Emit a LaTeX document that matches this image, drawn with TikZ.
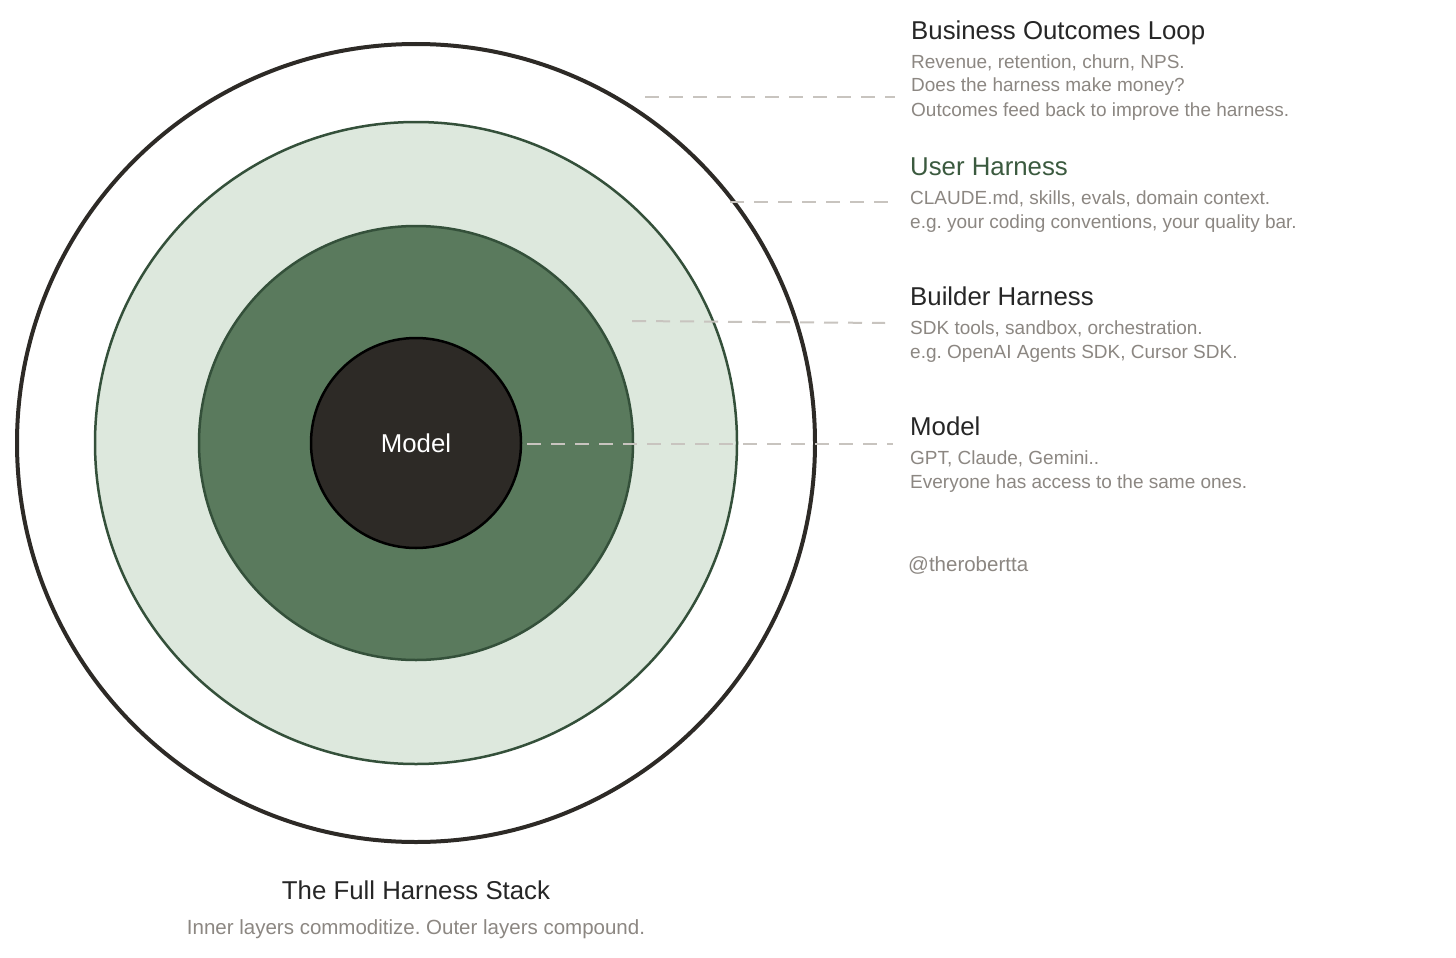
\documentclass[tikz,border=0pt]{standalone}
\usepackage{fontspec}
\setmainfont{Liberation Sans}
\begin{document}
\frenchspacing
\begin{tikzpicture}[x=1pt,y=-1pt,
  title/.style={anchor=base west,font=\fontsize{25.8}{28}\selectfont,text=black!85,inner sep=0},
  body/.style={anchor=base west,font=\fontsize{19}{24}\selectfont,text=grey,inner sep=0,align=left},
  lead/.style={draw=dashc,line width=2pt,dash pattern=on 14pt off 10pt}]
\definecolor{grey}{HTML}{8C8782}
\definecolor{dashc}{HTML}{C8C4BF}
\definecolor{lgreen}{HTML}{DDE8DD}
\definecolor{dgreen}{HTML}{5A7A5D}
\definecolor{edgeg}{HTML}{34503A}
\definecolor{core}{HTML}{2D2A26}
\definecolor{ugreen}{HTML}{3B5A3F}
\useasboundingbox (0,0) rectangle (1456,958);
\fill[white] (0,0) rectangle (1456,958);
\node[circle,draw=core,line width=4pt,minimum size=798pt,inner sep=0] (outer) at (416,443) {};
\node[circle,draw=edgeg,fill=lgreen,line width=2.5pt,minimum size=642pt,inner sep=0] (user) at (416,443) {};
\node[circle,draw=edgeg,fill=dgreen,line width=2.5pt,minimum size=434pt,inner sep=0] (builder) at (416,443) {};
\node[circle,draw=black,fill=core,line width=2.5pt,minimum size=210pt,inner sep=0,text=white,font=\fontsize{25.8}{28}\selectfont] (model) at (416,443) {Model};
\coordinate (a1) at (645,97); \coordinate (a2) at (895,97);
\coordinate (b1) at (730,202); \coordinate (b2) at (890,202);
\coordinate (c1) at (632,321); \coordinate (c2) at (885,323);
\coordinate (d1) at (527,444); \coordinate (d2) at (893,444);
\draw[lead] (a1) -- (a2);
\draw[lead] (b1) -- (b2);
\draw[lead] (c1) -- (c2);
\draw[lead] (d1) -- (d2);
\node[title] (t1) at (911,40) {Business Outcomes Loop};
\node[body] (s1a) at (911,68) {Revenue, retention, churn, NPS.};
\node[body] (s1b) at (911,92) {Does the harness make money?};
\node[body] (s1c) at (911,116) {Outcomes feed back to improve the harness.};
\node[title,text=ugreen] (t2) at (910,175) {User Harness};
\node[body] (s2a) at (910,204) {CLAUDE.md, skills, evals, domain context.};
\node[body] (s2b) at (910,228) {e.g. your coding conventions, your quality bar.};
\node[title] (t3) at (910,305) {Builder Harness};
\node[body] (s3a) at (910,334) {SDK tools, sandbox, orchestration.};
\node[body] (s3b) at (910,358) {e.g. OpenAI Agents SDK, Cursor SDK.};
\node[title] (t4) at (910,435) {Model};
\node[body] (s4a) at (910,464) {GPT, Claude, Gemini..};
\node[body] (s4b) at (910,488) {Everyone has access to the same ones.};
\node[body,font=\fontsize{20.5}{24}\selectfont] (tag) at (908,571) {@therobertta};
\node[anchor=base,inner sep=0,font=\fontsize{25.8}{28}\selectfont,text=black!85] (cap) at (416,899) {The Full Harness Stack};
\node[anchor=base,inner sep=0,font=\fontsize{20.5}{24}\selectfont,text=grey] (sub) at (416,934) {Inner layers commoditize. Outer layers compound.};
\end{tikzpicture}
\end{document}
